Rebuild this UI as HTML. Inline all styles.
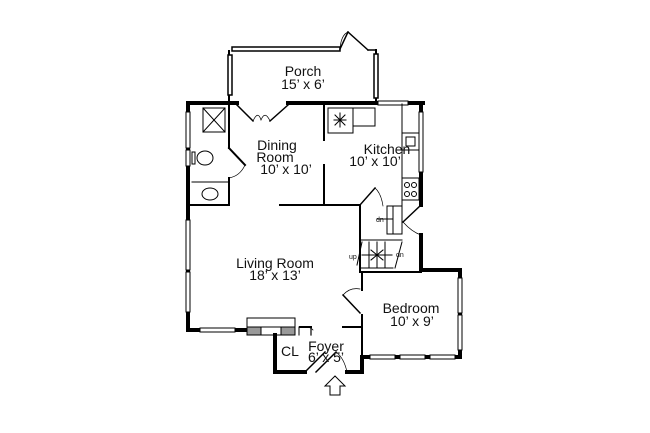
<!DOCTYPE html>
<html><head><meta charset="utf-8"><style>
html,body{margin:0;padding:0;background:#fff;}
svg{display:block}
text{font-family:"Liberation Sans",sans-serif;fill:#111;}
</style></head><body>
<svg width="650" height="433" viewBox="0 0 650 433" xmlns="http://www.w3.org/2000/svg">
<g stroke="#000" fill="none" stroke-linecap="square">
<!-- porch -->
<g stroke-width="1.5">
<rect x="232" y="47" width="108" height="4" fill="#fff"/>
<line x1="229" y1="51" x2="229" y2="103" stroke-width="2"/>
<rect x="228" y="55" width="4" height="40" fill="#fff"/>
<line x1="340" y1="49" x2="348" y2="32"/>
<line x1="348" y1="32" x2="368" y2="50"/>
<line x1="368" y1="50" x2="376" y2="50"/>
<line x1="376" y1="50" x2="376" y2="103" stroke-width="2"/>
<rect x="374" y="54" width="4" height="44" fill="#fff"/>
<path d="M340 49 Q341 35 348 32" stroke-width="0.7"/>
</g>
<!-- main outer thick walls -->
<g stroke-width="4">
<line x1="188" y1="103" x2="237" y2="103"/>
<line x1="288" y1="103" x2="378" y2="103"/>
<line x1="408" y1="103" x2="423" y2="103"/>
<line x1="188" y1="103" x2="188" y2="330"/>
<line x1="188" y1="330" x2="200" y2="330"/>
<line x1="235" y1="330" x2="247" y2="330"/>
<line x1="421" y1="103" x2="421" y2="205"/>
<line x1="421" y1="235" x2="421" y2="270"/>
<line x1="421" y1="270" x2="460" y2="270"/>
<line x1="460" y1="270" x2="460" y2="357"/>
<line x1="460" y1="357" x2="362" y2="357"/>
<line x1="362" y1="357" x2="362" y2="372"/>
<line x1="362" y1="372" x2="347" y2="372"/>
<line x1="275" y1="335" x2="275" y2="372"/>
<line x1="275" y1="372" x2="305" y2="372"/>
</g>
<!-- windows -->
<g stroke-width="1" fill="#fff">
<rect x="378" y="101" width="30" height="4"/>
<rect x="186" y="112" width="4" height="36"/>
<rect x="186" y="150" width="4" height="16"/>
<rect x="186" y="220" width="4" height="50"/>
<rect x="186" y="272" width="4" height="40"/>
<rect x="200" y="328" width="35" height="4"/>
<rect x="419" y="112" width="4" height="60"/>
<rect x="458" y="278" width="4" height="35"/>
<rect x="458" y="315" width="4" height="35"/>
<rect x="370" y="355" width="25" height="4"/>
<rect x="400" y="355" width="25" height="4"/>
<rect x="430" y="355" width="25" height="4"/>
</g>
<!-- interior walls -->
<g stroke-width="2">
<line x1="229" y1="103" x2="229" y2="148"/>
<line x1="229" y1="148" x2="245" y2="165"/>
<line x1="229" y1="178" x2="229" y2="205"/>
<line x1="188" y1="205" x2="229" y2="205"/>
<line x1="192" y1="182" x2="229" y2="182" stroke-width="1"/>
<line x1="324" y1="103" x2="324" y2="140"/>
<line x1="324" y1="165" x2="324" y2="205"/>
<line x1="280" y1="205" x2="360" y2="205"/>
<line x1="360" y1="205" x2="360" y2="272"/>
<line x1="360" y1="272" x2="421" y2="272"/>
<line x1="362" y1="272" x2="362" y2="290"/>
<line x1="362" y1="315" x2="362" y2="357"/>
<line x1="343" y1="295" x2="360" y2="313" stroke-width="1.5"/>
<line x1="360" y1="205" x2="375" y2="188" stroke-width="1.5"/>
<line x1="403" y1="222" x2="421" y2="205" stroke-width="1.5"/>
<line x1="300" y1="327" x2="311" y2="327"/>
<line x1="311" y1="327" x2="311" y2="335" stroke-width="1.2"/>
<line x1="343" y1="327" x2="362" y2="327"/>
<line x1="299" y1="327" x2="299" y2="335" stroke-width="1"/>
<line x1="402" y1="104" x2="402" y2="208" stroke-width="1"/>
</g>
<!-- doors -->
<g stroke-width="1.5">
<line x1="237" y1="105" x2="253" y2="121"/>
<line x1="288" y1="105" x2="270" y2="121"/>
<line x1="306" y1="371" x2="325" y2="352"/>
<line x1="316" y1="372" x2="336" y2="352"/>
</g>
<g stroke-width="0.7">
<path d="M253 121 Q258 110 261 120 Q265 110 270 121"/>
<path d="M229 178 Q240 176 245 165"/>
<path d="M375 188 Q381 193 383 206"/>
<path d="M403 222 Q412 232 421 235"/>
<path d="M343 295 Q350 287 360 289"/>
<path d="M336 352 Q344 358 347 372"/>
<path d="M300 327 Q310 326 313 330"/>
</g>
<!-- bathroom fixtures -->
<g stroke-width="1">
<rect x="203" y="108" width="22" height="24"/>
<line x1="203" y1="108" x2="225" y2="132"/><line x1="225" y1="108" x2="203" y2="132"/>
<ellipse cx="205" cy="158" rx="8" ry="7"/>
<rect x="192" y="152" width="3" height="12"/>
<ellipse cx="210" cy="194" rx="8" ry="6"/>
<!-- kitchen -->
<rect x="328" y="108" width="25" height="25"/>
<rect x="353" y="108" width="22" height="18"/>
<rect x="402" y="133" width="17" height="17"/>
<rect x="406" y="137" width="9" height="9"/>
<rect x="402" y="178" width="17" height="22"/>
<circle cx="407" cy="185" r="2.5"/><circle cx="414" cy="185" r="2.5"/>
<circle cx="407" cy="194" r="2.5"/><circle cx="414" cy="194" r="2.5"/>
<line x1="334" y1="120" x2="346" y2="120"/><line x1="340" y1="113" x2="340" y2="127"/>
<line x1="335" y1="115" x2="345" y2="125"/><line x1="345" y1="115" x2="335" y2="125"/>
<!-- stairs -->
<rect x="387" y="206" width="15" height="28"/>
<line x1="393" y1="206" x2="393" y2="234"/>
<line x1="377" y1="219" x2="393" y2="219"/>
<line x1="360" y1="240" x2="402" y2="240"/>
<line x1="360" y1="268" x2="393" y2="268"/>
<line x1="362" y1="242" x2="357" y2="265"/>
<line x1="402" y1="242" x2="395" y2="268"/>
<line x1="369" y1="242" x2="369" y2="268"/><line x1="377" y1="242" x2="377" y2="268"/>
<line x1="385" y1="242" x2="385" y2="268"/>
<line x1="362" y1="255" x2="392" y2="255"/>
<line x1="371" y1="250" x2="383" y2="260"/><line x1="383" y1="250" x2="371" y2="260"/>
<!-- fireplace -->
<rect x="247" y="318" width="48" height="9" fill="#fff"/>
<rect x="247" y="327" width="14" height="8" fill="#999"/>
<rect x="281" y="327" width="14" height="8" fill="#999"/>
<line x1="261" y1="335" x2="281" y2="335"/>
<!-- arrow -->
<path d="M335 376 L325 386 L330 386 L330 395 L340 395 L340 386 L345 386 Z"/>
</g>
</g>
<g font-size="14" text-anchor="middle">
<text x="303" y="76">Porch</text><text x="303" y="89">15’ x 6’</text>
<text x="277" y="150">Dining</text><text x="275" y="162">Room</text><text x="286" y="174">10’ x 10’</text>
<text x="387" y="154">Kitchen</text><text x="375" y="166">10’ x 10’</text>
<text x="275" y="268">Living Room</text><text x="275" y="280">18’ x 13’</text>
<text x="411" y="313">Bedroom</text><text x="412" y="326">10’ x 9’</text>
<text x="290" y="356">CL</text>
<text x="326" y="351">Foyer</text><text x="326" y="362">6’ x 5’</text>
</g>
<g font-size="7">
<text x="376" y="222">dn</text><text x="349" y="259">up</text><text x="396" y="257">dn</text>
</g>
</svg>
</body></html>
